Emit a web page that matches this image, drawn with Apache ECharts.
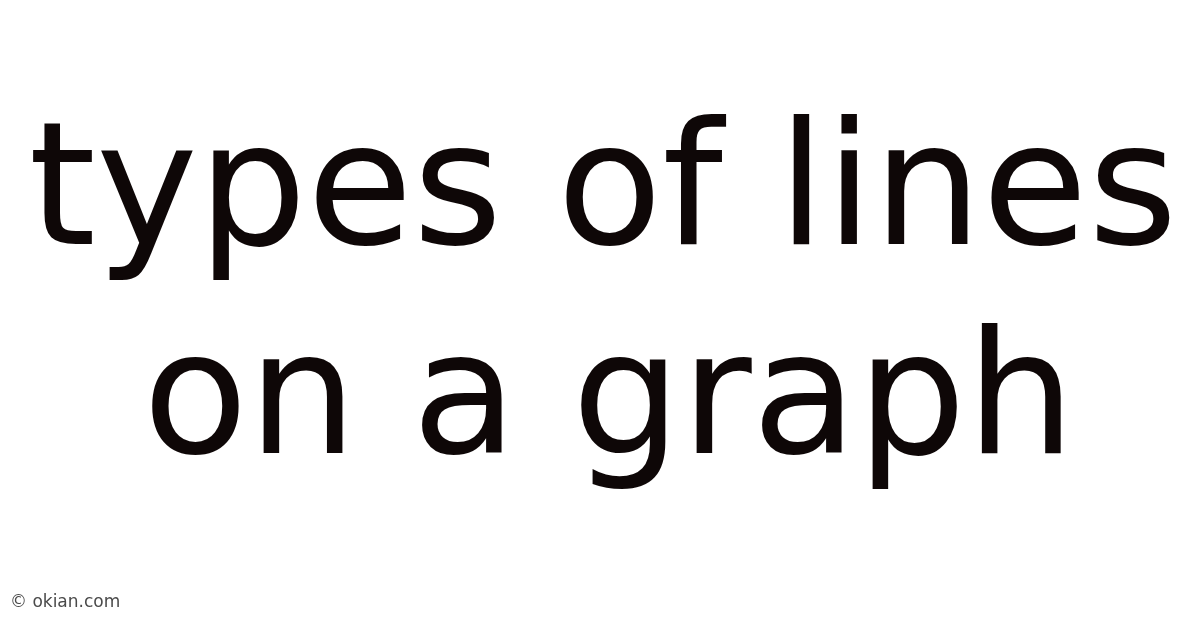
<!DOCTYPE html>
<html>
<head>
<meta charset="utf-8">
<script src="https://cdn.jsdelivr.net/npm/echarts@6/dist/echarts.min.js"></script>
<style>
html,body{margin:0;padding:0;background:#fff;}
#c{width:1200px;height:628px;}
</style>
</head>
<body>
<div id="c"></div>
<script>
var titleLines = ["types of lines", "on a graph"];
var watermark = ["© okian.com"];

var chart = echarts.init(document.getElementById('c'));
var lineX = [603, 609];
var lineY = [199, 408];
var graphics = titleLines.map(function (t, i) {
  return {
    type: 'text',
    style: {
      text: t,
      x: lineX[i],
      y: lineY[i],
      fill: '#0e0707',
      font: '172px "DejaVu Sans"',
      textAlign: 'center',
      textVerticalAlign: 'middle'
    }
  };
});
graphics.push({
  type: 'text',
  style: {
    text: watermark[0],
    x: 10,
    y: 603,
    fill: '#4a4a4a',
    font: '17px "DejaVu Sans"',
    textAlign: 'left',
    textVerticalAlign: 'middle'
  }
});
chart.setOption({
  backgroundColor: '#ffffff',
  graphic: graphics
});
</script>
</body>
</html>
